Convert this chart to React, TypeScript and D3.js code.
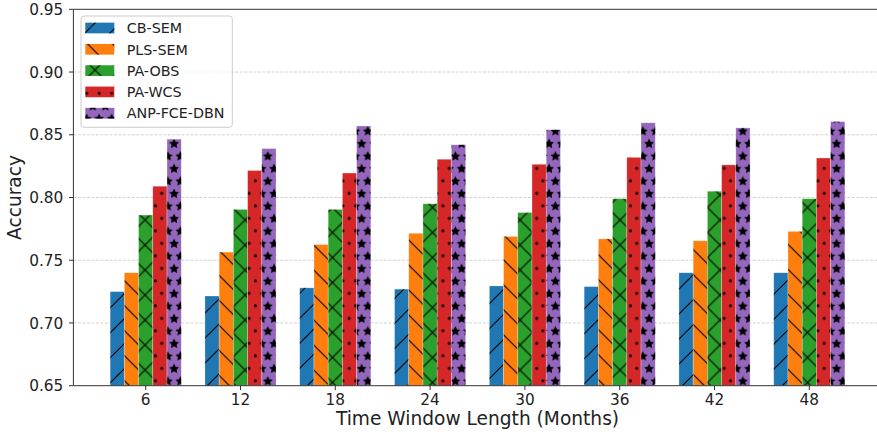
import React, { useEffect } from "react";
import * as d3 from "d3";

const months = ["6", "12", "18", "24", "30", "36", "42", "48"];
const seriesNames = ["CB-SEM", "PLS-SEM", "PA-OBS", "PA-WCS", "ANP-FCE-DBN"];
const cbSem = [0.725, 0.7215, 0.728, 0.727, 0.7295, 0.729, 0.740, 0.740];
const plsSem = [0.740, 0.7565, 0.7625, 0.7715, 0.769, 0.767, 0.7655, 0.773];
const paObs = [0.786, 0.7905, 0.7905, 0.795, 0.788, 0.799, 0.805, 0.799];
const paWcs = [0.809, 0.8215, 0.8195, 0.8305, 0.8265, 0.832, 0.826, 0.8315];
const anp = [0.8465, 0.839, 0.857, 0.842, 0.854, 0.8595, 0.8555, 0.8605];
const yTicks = [0.65, 0.7, 0.75, 0.8, 0.85, 0.9, 0.95];

const seriesValues = [cbSem, plsSem, paObs, paWcs, anp];
const colors = ["#1f77b4", "#ff7f0e", "#2ca02c", "#d62728", "#9467bd"];
const hatchIds = ["h-ne", "h-nw", "h-x", "h-dot", "h-star"];

const W = 877;
const H = 434;
const margin = { left: 73.4, right: 881.6, top: 9.3, bottom: 385.7 };
const FONT = "DejaVu Sans, sans-serif";

// 5-point star like matplotlib's unit_regular_star (inner radius 0.5)
const starPath = (cx: number, cy: number, r: number) => {
  const pts = d3.range(10).map((i) => {
    const a = -Math.PI / 2 + (i * Math.PI) / 5;
    const rr = i % 2 === 0 ? r : r * 0.5;
    return [cx + rr * Math.cos(a), cy + rr * Math.sin(a)];
  });
  return "M" + pts.map((p) => p.join(",")).join("L") + "Z";
};

const App = () => {
  useEffect(() => {
    document.body.style.margin = "0";
  }, []);

  const x = d3
    .scaleBand()
    .domain(months)
    .range([margin.left, margin.right])
    .paddingInner(0.25)
    .paddingOuter(0.3875);

  const xs = d3
    .scaleBand()
    .domain(seriesNames)
    .range([0, x.bandwidth()])
    .padding(0);

  const y = d3
    .scaleLinear()
    .domain([0.65, 0.95])
    .range([margin.bottom, margin.top]);

  const s = 12.5; // shape hatch spacing
  const L = 25; // line hatch spacing
  const hatchStroke = { stroke: "#000", strokeWidth: 1.1 };

  const legendRows = seriesNames.map((name, i) => ({ name, i, cy: 28 + i * 21.3 }));

  return (
    <svg
      width={W}
      height={H}
      style={{ position: "absolute", left: 0, top: 0, background: "#fff" }}
      fontFamily={FONT}
    >
      <defs>
        <pattern id="h-ne" patternUnits="userSpaceOnUse" width={L} height={L} x={18} y={0}>
          <path d={`M0,${L}L${L},0M-2,2L2,-2M${L - 2},${L + 2}L${L + 2},${L - 2}`} {...hatchStroke} />
        </pattern>
        <pattern id="h-nw" patternUnits="userSpaceOnUse" width={L} height={L} x={18.7} y={0}>
          <path d={`M0,0L${L},${L}M-2,${L - 2}L2,${L + 2}M${L - 2},-2L${L + 2},2`} {...hatchStroke} />
        </pattern>
        <pattern id="h-x" patternUnits="userSpaceOnUse" width={L} height={L} x={7.5} y={7.5}>
          <path
            d={`M0,${L}L${L},0M-2,2L2,-2M${L - 2},${L + 2}L${L + 2},${L - 2}M0,0L${L},${L}M-2,${L - 2}L2,${L + 2}M${L - 2},-2L${L + 2},2`}
            {...hatchStroke}
          />
        </pattern>
        <pattern id="h-dot" patternUnits="userSpaceOnUse" width={s} height={2 * s} x={11.7} y={18.3}>
          {[[0, 0], [s, 0], [0, 2 * s], [s, 2 * s], [s / 2, s]].map(([cx, cy], k) => (
            <circle key={k} cx={cx} cy={cy} r={1.5} fill="#000" />
          ))}
        </pattern>
        <pattern id="h-star" patternUnits="userSpaceOnUse" width={s} height={2 * s} x={11.6} y={18.8}>
          {[[0, 0], [s, 0], [0, 2 * s], [s, 2 * s], [s / 2, s]].map(([cx, cy], k) => (
            <path key={k} d={starPath(cx, cy, 5.2)} fill="#000" />
          ))}
        </pattern>
        <clipPath id="plot-clip">
          <rect x={margin.left} y={margin.top} width={margin.right - margin.left} height={margin.bottom - margin.top} />
        </clipPath>
      </defs>

      {/* grid */}
      <g>
        {yTicks.slice(1, -1).map((t) => (
          <line
            key={t}
            x1={margin.left}
            x2={margin.right}
            y1={y(t)}
            y2={y(t)}
            stroke="#b0b0b0"
            strokeWidth={0.8}
            strokeDasharray="3,1.5"
            opacity={0.7}
          />
        ))}
      </g>

      {/* bars */}
      <g clipPath="url(#plot-clip)">
        {seriesValues.map((vals, si) => (
          <g key={seriesNames[si]}>
            {vals.map((v, gi) => {
              const bx = (x(months[gi]) as number) + (xs(seriesNames[si]) as number);
              const by = y(v);
              const bh = y(0.65) - by;
              return (
                <g key={gi}>
                  <rect x={bx} y={by} width={xs.bandwidth()} height={bh} fill={colors[si]} />
                  <rect x={bx} y={by} width={xs.bandwidth()} height={bh} fill={`url(#${hatchIds[si]})`} />
                  <rect
                    x={bx}
                    y={by}
                    width={xs.bandwidth()}
                    height={bh}
                    fill="none"
                    stroke="#fff"
                    strokeOpacity={0.45}
                    strokeWidth={0.6}
                  />
                </g>
              );
            })}
          </g>
        ))}
      </g>

      {/* spines */}
      <g stroke="#333" strokeWidth={1} fill="none">
        <line x1={margin.left} x2={margin.left} y1={margin.top} y2={margin.bottom} />
        <line x1={margin.left} x2={margin.right} y1={margin.top} y2={margin.top} />
        <line x1={margin.left} x2={margin.right} y1={margin.bottom} y2={margin.bottom} />
      </g>

      {/* y axis */}
      <g>
        {yTicks.map((t) => (
          <g key={t}>
            <line x1={margin.left - 4.4} x2={margin.left} y1={y(t)} y2={y(t)} stroke="#333" strokeWidth={1} />
            <text x={63.3} y={y(t) + 5.6} textAnchor="end" fontSize={15.3} fill="#222">
              {d3.format(".2f")(t)}
            </text>
          </g>
        ))}
        <text
          transform={`translate(20.5,${(margin.top + margin.bottom) / 2}) rotate(-90)`}
          textAnchor="middle"
          fontSize={18.6}
          fill="#222"
        >
          Accuracy
        </text>
      </g>

      {/* x axis */}
      <g>
        {months.map((m) => {
          const cx = (x(m) as number) + x.bandwidth() / 2;
          return (
            <g key={m}>
              <line x1={cx} x2={cx} y1={margin.bottom} y2={margin.bottom + 4.4} stroke="#333" strokeWidth={1} />
              <text x={cx} y={404.5} textAnchor="middle" fontSize={15.3} fill="#222">
                {m}
              </text>
            </g>
          );
        })}
        <text x={(margin.left + margin.right) / 2} y={425} textAnchor="middle" fontSize={18.6} fill="#222">
          Time Window Length (Months)
        </text>
      </g>

      {/* legend */}
      <g>
        <rect x={81} y={16} width={151.3} height={111.3} rx={3} fill="#fff" fillOpacity={0.8} stroke="#ccc" strokeWidth={1} />
        {legendRows.map(({ name, i, cy }) => (
          <g key={name}>
            <rect x={85.3} y={cy - 5.35} width={29} height={10.7} fill={colors[i]} />
            <rect x={85.3} y={cy - 5.35} width={29} height={10.7} fill={`url(#${hatchIds[i]})`} />
            <text x={126.7} y={cy + 5.2} fontSize={14.3} fill="#222">
              {name}
            </text>
          </g>
        ))}
      </g>
    </svg>
  );
};

export default App;
